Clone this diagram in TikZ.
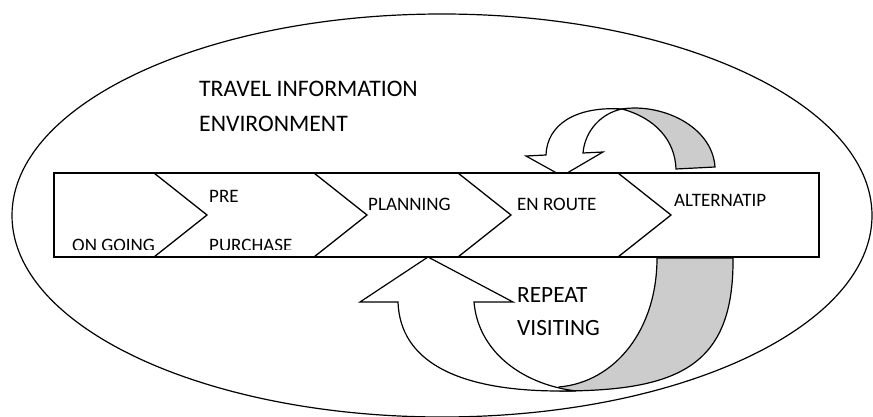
\documentclass[tikz,border=0pt]{standalone}
\usepackage{fontspec}
\setmainfont{Carlito}
\definecolor{ribbon}{RGB}{204,204,204}
\tikzset{
  outline/.style={draw=black, line width=1.2pt, line join=miter},
  band/.style={draw=black, line width=1.7pt, fill=white},
  chev/.style={draw=black, line width=1.3pt},
  lbl/.style={anchor=base west, inner sep=0pt, font=\fontsize{19}{22}\selectfont},
  biglbl/.style={anchor=base west, inner sep=0pt, font=\fontsize{23.7}{28}\selectfont},
  midlbl/.style={anchor=base west, inner sep=0pt, font=\fontsize{23.3}{28}\selectfont}
}
\begin{document}
\begin{tikzpicture}[x=1pt,y=-1pt]
\useasboundingbox (0,0) rectangle (873,417);
% environment ellipse
\draw[line width=1.2pt] (442,215.5) ellipse [x radius=430pt, y radius=201.5pt];

% top curved arrow (back side, grey)
\path[outline, fill=ribbon] (622,109) .. controls (660,103) and (712,125) .. (715,167)
   -- (676,169) .. controls (675,140) and (655,118) .. (622,109) -- cycle;
% top curved arrow (front, white)
\path[outline, fill=white] (546,155) .. controls (547,125) and (575,106) .. (622,109)
   .. controls (602,113) and (585,130) .. (583,153) -- (603,152) -- (562,176) -- (526,156) -- cycle;

% bottom curved arrow (back side, grey)
\path[outline, fill=ribbon] (559,387) .. controls (615,382) and (657,330) .. (657,258)
   -- (733,258) .. controls (734,365) and (680,391) .. (560,391) -- cycle;
% bottom curved arrow (front, white)
\path[outline, fill=white] (398,302) .. controls (400,360) and (455,391) .. (560,391) -- (576,391)
   .. controls (520,384) and (478,350) .. (474,302) -- (513,302) -- (428,257) -- (360,302) -- cycle;

% process band
\path[band] (54,173) rectangle (819,257);
\foreach \xa in {154,314,458,618}{
  \draw[chev] (\xa,173) -- ({\xa+53},215) -- (\xa,257);
}

% band labels (clipped like text boxes)
\begin{scope}
\clip (54,173) rectangle (819,249.3);
\node[lbl] (ongoing) at (72,251.5) {ON GOING};
\node[lbl] (purchase) at (209,251.5) {PURCHASE};
\end{scope}
\node[lbl] (pre) at (209,202) {PRE};
\node[lbl] (planning) at (368,210) {PLANNING};
\node[lbl] (enroute) at (517,210) {EN ROUTE};
\node[lbl] (altern) at (674,207) {ALTERNATIP};

\node[midlbl] (repeat) at (517,302) {REPEAT};
\node[midlbl] (visiting) at (517,335) {VISITING};

\node[biglbl] (travel) at (199,97) {TRAVEL INFORMATION};
\node[biglbl] (environment) at (199,132) {ENVIRONMENT};
\end{tikzpicture}
\end{document}
